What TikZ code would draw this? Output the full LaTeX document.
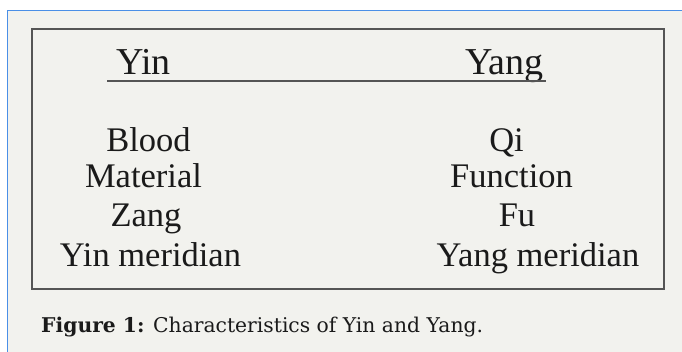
\documentclass[tikz,border=0pt]{standalone}
\usepackage{fontspec}
\setmainfont{Liberation Serif}
\newfontfamily\capfont{DejaVu Serif}
\definecolor{panelbg}{HTML}{F2F2EE}
\definecolor{blueline}{HTML}{4A8FE7}
\definecolor{boxline}{HTML}{555555}
\definecolor{ink}{HTML}{1A1A1A}
\tikzset{
  head/.style={anchor=base, inner sep=0pt, text=ink, font=\fontsize{38}{40}\selectfont},
  item/.style={anchor=base, inner sep=0pt, text=ink, font=\fontsize{34.5}{38}\selectfont},
  captxt/.style={anchor=base west, inner sep=0pt, text=ink, font=\capfont\fontsize{20.3}{24}\selectfont}
}
\begin{document}
\begin{tikzpicture}[x=1pt,y=-1pt]
\useasboundingbox (0,0) rectangle (682,352);
\fill[white] (0,0) rectangle (682,352);
\fill[panelbg] (7,10) rectangle (682,352);
\draw[blueline, line width=1.3pt] (7.5,352) -- (7.5,10.5) -- (682,10.5);
\draw[boxline, line width=1.3pt] (32,29) rectangle (664,289);
\node[head] (yin) at (143.5,75) {Yin};
\node[head] (yang) at (504.5,75) {Yang};
\coordinate (ulA) at (107,81);
\coordinate (ulB) at (546,81);
\draw[boxline, line width=2.5pt] (ulA) -- (ulB);
\node[item] (blood) at (148.5,152) {Blood};
\node[item] (material) at (143.5,188) {Material};
\node[item] (zang) at (146,227) {Zang};
\node[item] (yinmer) at (150.5,267) {Yin meridian};
\node[item] (qi) at (506.5,152) {Qi};
\node[item] (function) at (511.5,188) {Function};
\node[item] (fu) at (517,227) {Fu};
\node[item] (yangmer) at (538,267) {Yang meridian};
\node[captxt] (caption) at (41,332) {\textbf{Figure 1:} Characteristics of Yin and Yang.};
\end{tikzpicture}
\end{document}
